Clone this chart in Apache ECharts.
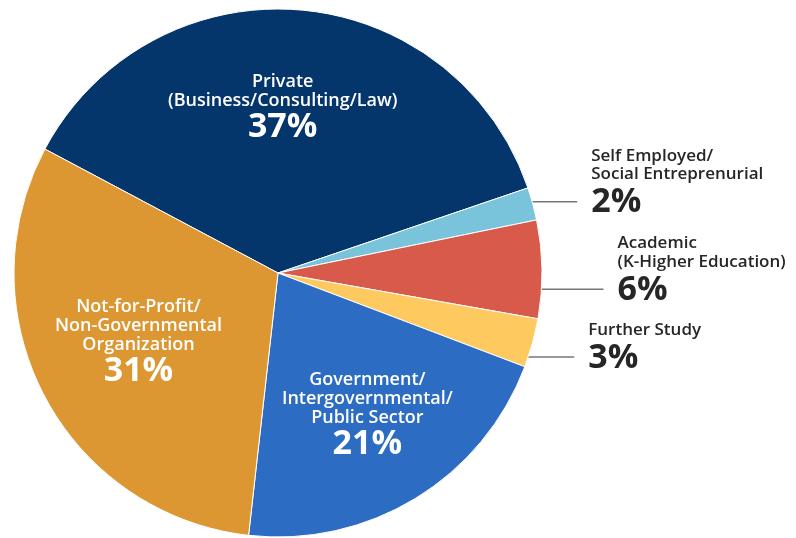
<!DOCTYPE html>
<html>
<head>
<meta charset="utf-8">
<script src="https://cdn.jsdelivr.net/npm/echarts@6/dist/echarts.min.js"></script>
<style>
html,body{margin:0;padding:0;background:#fff;}
#chart{width:796px;height:538px;}
</style>
</head>
<body>
<div id="chart"></div>
<script>
// ---- data ----
const categories = [
  'Private\n(Business/Consulting/Law)',
  'Self Employed/\nSocial Entreprenurial',
  'Academic\n(K-Higher Education)',
  'Further Study',
  'Government/\nIntergovernmental/\nPublic Sector',
  'Not-for-Profit/\nNon-Governmental\nOrganization'
];
const values = [37, 2, 6, 3, 21, 31];
const colors = ['#04356b', '#79c3db', '#d85a4b', '#fec95e', '#2c6cc2', '#dc9732'];

// ---- layout / style ----
const CX = 278, CY = 273, R = 264, START = 152;
const inside = [true, false, false, false, true, true];
const innerFrac = [0.635, 0, 0, 0, 0.63, 0.586];
const innerAngleAdj = [3, 0, 0, 0, 1.1, -2.2];
const innerDy = 3;
const outerDy = [0, -2, 20, 14, 0, 0];
const lineLen = [0, 55, 72, 56, 0, 0];
const lineInset = 10, textGap = 14;
const FONT = '"Open Sans", Lato, sans-serif';

const total = values.reduce((a, b) => a + b, 0);
const mids = [];
let acc = 0;
values.forEach(v => {
  const a0 = START - acc / total * 360;
  acc += v;
  const a1 = START - acc / total * 360;
  mids.push((a0 + a1) / 2);
});

const rad = d => d * Math.PI / 180;

const data = categories.map((c, i) => ({
  name: c,
  value: values[i],
  itemStyle: { color: colors[i] },
  label: inside[i] ? {
    position: 'inside',
    formatter: p => '{n|' + p.name + '}\n{p|' + p.value + '%}',
    rich: {
      n: { color: '#fff', fontSize: 18, fontWeight: 600, lineHeight: 19, fontFamily: FONT, align: 'center' },
      p: { color: '#fff', fontSize: 34, fontWeight: 'bold', lineHeight: 34, fontFamily: FONT, align: 'center' }
    }
  } : {
    position: 'outside',
    formatter: p => '{n|' + p.name + '}\n{p|' + p.value + '%}',
    rich: {
      n: { color: '#262626', fontSize: 17, fontWeight: 600, lineHeight: 18.5, fontFamily: FONT, align: 'left' },
      p: { color: '#262626', fontSize: 34, fontWeight: 'bold', lineHeight: 38, fontFamily: FONT, align: 'left' }
    }
  },
  labelLine: { show: !inside[i] }
}));

const chart = echarts.init(document.getElementById('chart'), null, { renderer: 'canvas' });
chart.setOption({
  backgroundColor: '#fff',
  animation: false,
  series: [{
    type: 'pie',
    center: [CX, CY],
    radius: [0, R],
    startAngle: START,
    clockwise: true,
    avoidLabelOverlap: false,
    itemStyle: { borderColor: '#fff', borderWidth: 1 },
    labelLine: { lineStyle: { color: '#777', width: 1.5 }, length: 10, length2: 40 },
    data: data,
    labelLayout: function (p) {
      const i = p.dataIndex;
      const m = mids[i];
      if (inside[i]) {
        const a = rad(m + innerAngleAdj[i]);
        return {
          x: CX + innerFrac[i] * R * Math.cos(a),
          y: CY - innerFrac[i] * R * Math.sin(a) + innerDy,
          align: 'center',
          verticalAlign: 'middle'
        };
      }
      const ly = CY - R * Math.sin(rad(m)) + outerDy[i];
      const edgeX = CX + Math.sqrt(R * R - (ly - CY) * (ly - CY));
      const x1 = edgeX - lineInset;
      const x2 = x1 + lineLen[i];
      return {
        x: x2 + textGap,
        y: ly + 20,
        align: 'left',
        verticalAlign: 'bottom',
        labelLinePoints: [[x1, ly], [x1 + 1, ly], [x2, ly]]
      };
    }
  }]
});
</script>
</body>
</html>
